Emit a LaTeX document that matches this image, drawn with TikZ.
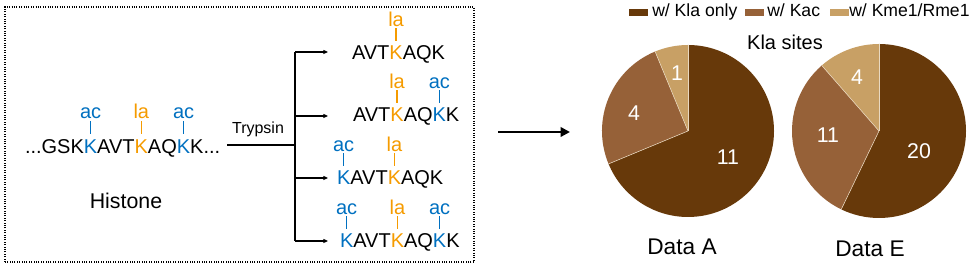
\documentclass[tikz,border=0pt]{standalone}
\usepackage{fontspec}
\setmainfont{Liberation Sans}
\usetikzlibrary{positioning,arrows.meta}
\definecolor{cblue}{RGB}{0,112,192}
\definecolor{corange}{RGB}{245,155,0}
\definecolor{cdark}{RGB}{103,57,10}
\definecolor{cmid}{RGB}{150,97,56}
\definecolor{clight}{RGB}{200,160,101}
\tikzset{seq/.style={inner sep=0pt,outer sep=0pt,font=\fontsize{15}{18}\selectfont},
         kac/.style={seq,text=cblue},
         kla/.style={seq,text=corange},
         tac/.style={cblue,line width=0.9pt},
         tla/.style={corange,line width=0.9pt}}
\tikzset{branch/.style={line width=0.8pt,-{Triangle[length=3.5pt,width=3pt]}},
         legsq/.style={minimum width=14.25pt,minimum height=5.25pt,inner sep=0pt},
         legtxt/.style={inner sep=0pt,anchor=base west,font=\fontsize{13.2}{16}\selectfont},
         pienum/.style={text=white,inner sep=0pt,font=\fontsize{16}{19}\selectfont},
         sep/.style={white!60!clight,line width=0.4pt}}

\begin{document}
\begin{tikzpicture}[x=0.75pt,y=0.75pt]
    \useasboundingbox (0,0) rectangle (975,266);
    \draw[densely dotted,line width=0.8pt] (5,4) rectangle (474,259);
    % histone
    \node[seq,anchor=base west] (h1) at (25,112) {...GSK};
    \node[kac,base right=0pt of h1] (h2) {K};
    \node[seq,base right=0pt of h2] (h3) {AVT};
    \node[kla,base right=0pt of h3] (h4) {K};
    \node[seq,base right=0pt of h4] (h5) {AQ};
    \node[kac,base right=0pt of h5] (h6) {K};
    \node[seq,base right=0pt of h6] (h7) {K...};
    \node[kac,above=16pt of h2] (hm1) {ac};
    \node[kla,above=16pt of h4] (hm2) {la};
    \node[kac,above=16pt of h6] (hm3) {ac};
    \draw[tac] ([yshift=5pt]h2.north) -- ([yshift=-1.5pt]hm1.south);
    \draw[tla] ([yshift=5pt]h4.north) -- ([yshift=-1.5pt]hm2.south);
    \draw[tac] ([yshift=5pt]h6.north) -- ([yshift=-1.5pt]hm3.south);
    \node[anchor=base,inner sep=0pt,font=\fontsize{16}{19}\selectfont] (hist) at (126,57) {Histone};
    % trypsin
    \coordinate (cut) at (227,121);
    \coordinate (split) at (295,121);
    \draw[line width=0.8pt] (cut) -- (split);
    \node[anchor=base,inner sep=0pt,font=\fontsize{12}{14}\selectfont] (tryp) at (258,132.5) {Trypsin};
    \coordinate (vtop) at (295,214);
    \coordinate (vbot) at (295,25);
    \draw[line width=0.8pt] (vtop) -- (vbot);
    \foreach \y [count=\i] in {214,150,88,25} {
      \coordinate (s\i) at (295,\y);
      \coordinate (e\i) at (328,\y);
      \draw[branch] (s\i) -- (e\i);
    }
    % peptide 1
    \node[seq,anchor=base west] (pa1) at (352,206) {AVT};
    \node[kla,base right=0pt of pa1] (pa2) {K};
    \node[seq,base right=0pt of pa2] (pa3) {AQK};
    \node[kla,above=15pt of pa2] (pam1) {la};
    \draw[tla] ([yshift=4pt]pa2.north) -- ([yshift=-1.5pt]pam1.south);
    % peptide 2
    \node[seq,anchor=base west] (pb1) at (353,144) {AVT};
    \node[kla,base right=0pt of pb1] (pb2) {K};
    \node[seq,base right=0pt of pb2] (pb3) {AQ};
    \node[kac,base right=0pt of pb3] (pb4) {K};
    \node[seq,base right=0pt of pb4] (pb5) {K};
    \node[kla,above=15pt of pb2] (pbm1) {la};
    \node[kac,above=15pt of pb4] (pbm2) {ac};
    \draw[tla] ([yshift=4pt]pb2.north) -- ([yshift=-1.5pt]pbm1.south);
    \draw[tac] ([yshift=4pt]pb4.north) -- ([yshift=-1.5pt]pbm2.south);
    % peptide 3
    \node[kac,anchor=base west] (pc1) at (337,81) {K};
    \node[seq,base right=0pt of pc1] (pc2) {AVT};
    \node[kla,base right=0pt of pc2] (pc3) {K};
    \node[seq,base right=0pt of pc3] (pc4) {AQK};
    \node[kac,above=15pt of pc1] (pcm1) {ac};
    \node[kla,above=15pt of pc3] (pcm2) {la};
    \draw[tac] ([yshift=4pt]pc1.north) -- ([yshift=-1.5pt]pcm1.south);
    \draw[tla] ([yshift=4pt]pc3.north) -- ([yshift=-1.5pt]pcm2.south);
    % peptide 4
    \node[kac,anchor=base west] (pd1) at (340,18) {K};
    \node[seq,base right=0pt of pd1] (pd2) {AVT};
    \node[kla,base right=0pt of pd2] (pd3) {K};
    \node[seq,base right=0pt of pd3] (pd4) {AQ};
    \node[kac,base right=0pt of pd4] (pd5) {K};
    \node[seq,base right=0pt of pd5] (pd6) {K};
    \node[kac,above=15pt of pd1] (pdm1) {ac};
    \node[kla,above=15pt of pd3] (pdm2) {la};
    \node[kac,above=15pt of pd5] (pdm3) {ac};
    \draw[tac] ([yshift=4pt]pd1.north) -- ([yshift=-1.5pt]pdm1.south);
    \draw[tla] ([yshift=4pt]pd3.north) -- ([yshift=-1.5pt]pdm2.south);
    \draw[tac] ([yshift=4pt]pd5.north) -- ([yshift=-1.5pt]pdm3.south);
    % big arrow
    \coordinate (go1) at (498,134);
    \coordinate (go2) at (570,134);
    \draw[line width=2pt,-{Triangle[length=7pt,width=7pt]}] (go1) -- (go2);
    % legend
    \node[legsq,fill=cdark] (l1) at (638.5,253.5) {};
    \node[legtxt] (t1) at (652,249) {w/ Kla only};
    \node[legsq,fill=cmid] (l2) at (754.5,253.5) {};
    \node[legtxt] (t2) at (767,249) {w/ Kac};
    \node[legsq,fill=clight] (l3) at (839.5,253.5) {};
    \node[legtxt] (t3) at (849,249) {w/ Kme1/Rme1};
    \node[anchor=base,inner sep=0pt,font=\fontsize{15}{18}\selectfont] (sites) at (785,216) {Kla sites};
    % pie A: 11 / 4 / 1
    \coordinate (pa) at (688,135);
    \foreach \a/\b/\c in {90/-157.5/cdark,-157.5/-247.5/cmid,-247.5/-270/clight}
      \fill[\c] (pa) -- ++(\a:86) arc[start angle=\a,end angle=\b,radius=86] -- cycle;
    \foreach \a in {90,-157.5,-247.5} \draw[sep] (pa) -- ++(\a:86);
    \node[pienum] (a1) at (728,109) {11};
    \node[pienum] (a2) at (634,153) {4};
    \node[pienum] (a3) at (677,193) {1};
    \node[anchor=base,inner sep=0pt,font=\fontsize{17}{20}\selectfont] (dA) at (682,11) {Data A};
    % pie E: 20 / 11 / 4
    \coordinate (pe) at (879,135);
    \foreach \a/\b/\c in {90/-115.71/cdark,-115.71/-228.86/cmid,-228.86/-270/clight}
      \fill[\c] (pe) -- ++(\a:87) arc[start angle=\a,end angle=\b,radius=87] -- cycle;
    \foreach \a in {90,-115.71,-228.86} \draw[sep] (pe) -- ++(\a:87);
    \node[pienum] (e1) at (919,115) {20};
    \node[pienum] (e2) at (828,131) {11};
    \node[pienum] (e3) at (857,189) {4};
    \node[anchor=base,inner sep=0pt,font=\fontsize{17}{20}\selectfont] (dE) at (870,9) {Data E};
  \end{tikzpicture}
\end{document}
